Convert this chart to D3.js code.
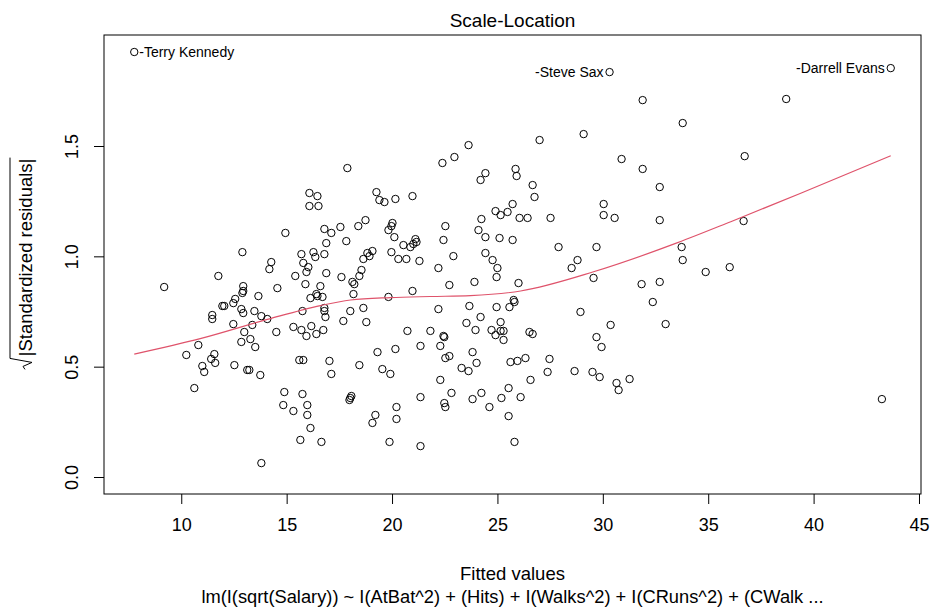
<!DOCTYPE html>
<html>

<head>
  <meta charset="utf8">
  <script src="https://d3js.org/d3.v7.min.js"></script>
  <style>
    body {
      margin: 0;
      background: #fff;
    }

    text {
      font-family: "Liberation Sans", Arial, sans-serif;
      fill: #000;
    }

    .axis text {
      font-size: 18px;
    }

    .axis line {
      stroke: #000;
    }

    .pt {
      fill: none;
      stroke: #000;
      stroke-width: 1;
    }

    .smooth {
      fill: none;
      stroke: #DF536B;
      stroke-width: 1.2;
    }
  </style>
</head>

<body>
  <svg id="chart" width="934" height="607"></svg>

  <script>
    // fitted values (x) and sqrt(|standardized residuals|) (y)
    var fitted = [
      7.77, 30.32, 43.66, 31.89, 38.70, 33.79, 29.09, 27.00, 23.63, 30.89,
      36.73, 22.96, 22.39, 17.88, 31.89, 25.86, 25.91, 24.43, 24.20, 32.70,
      26.67, 26.76, 16.08, 16.46, 16.08, 16.51, 19.26, 19.40, 19.64, 20.16,
      20.97, 24.24, 24.91, 25.15, 25.48, 25.72, 26.05, 26.43, 27.52, 30.04,
      30.04, 30.56, 32.70, 36.68, 22.53, 22.44, 24.10, 24.43, 25.10, 25.72,
      16.79, 17.12, 17.55, 16.88, 17.83, 18.40, 18.74, 20.02, 19.97, 19.83,
      20.11, 20.54, 20.87, 21.11, 21.16, 21.01, 14.94, 12.90, 15.70, 16.27,
      16.36, 16.79, 14.27, 14.18, 15.79, 16.03, 15.94, 18.83, 19.07, 18.93,
      18.64, 19.97, 20.30, 20.68, 21.30, 22.91, 24.43, 24.77, 25.00, 24.96,
      26.00, 22.20, 22.72, 23.91, 16.88, 17.60, 18.55, 18.45, 18.12, 18.21,
      15.89, 16.60, 16.41, 16.46, 16.70, 16.13, 18.17, 20.97, 19.83, 25.77,
      11.76, 15.41, 9.19, 12.94, 12.94, 12.90, 14.56, 13.66, 12.56, 12.47,
      11.95, 12.04, 11.47, 11.47, 12.85, 12.94, 13.47, 13.80, 14.08, 12.47,
      13.37, 12.99, 12.85, 13.28, 13.51, 14.51, 15.75, 15.32, 15.70, 16.17,
      15.94, 16.41, 16.74, 10.81, 10.24, 11.57, 11.42, 11.61, 11.00, 11.09,
      12.52, 13.13, 13.23, 13.75, 15.60, 15.79, 10.62, 14.89, 15.75, 14.84,
      15.32, 15.98, 15.98, 16.13, 15.65, 16.65, 13.80, 16.79, 16.79, 18.02,
      18.64, 16.84, 17.69, 18.78, 20.73, 21.82, 22.20, 23.67, 24.20, 23.53,
      23.96, 24.96, 25.57, 25.81, 25.15, 24.72, 24.91, 25.15, 25.29, 25.29,
      22.44, 22.48, 22.29, 21.35, 19.31, 20.16, 17.03, 18.45, 17.12, 19.54,
      19.92, 22.53, 22.72, 23.82, 24.01, 23.30, 23.63, 25.62, 25.95, 22.29,
      22.82, 21.35, 22.48, 22.53, 23.82, 24.24, 24.62, 25.19, 25.53, 26.10,
      18.07, 17.98, 18.02, 20.21, 20.21, 19.21, 19.07, 19.88, 21.35, 25.53,
      25.81, 27.90, 29.70, 28.80, 28.52, 29.56, 31.84, 32.70, 33.74, 33.79,
      34.88, 36.02, 32.37, 28.94, 30.37, 32.98, 26.52, 26.67, 29.70, 29.94,
      26.33, 27.47, 27.38, 28.66, 29.51, 29.85, 30.65, 30.75, 31.27, 26.57,
      43.24
    ];

    var sqrtStdResid = [
      1.926, 1.835, 1.853, 1.708, 1.713, 1.604, 1.554, 1.527, 1.504, 1.441,
      1.454, 1.450, 1.423, 1.400, 1.396, 1.396, 1.364, 1.377, 1.346, 1.314,
      1.323, 1.269, 1.287, 1.273, 1.228, 1.228, 1.291, 1.255, 1.246, 1.260,
      1.273, 1.169, 1.205, 1.187, 1.201, 1.237, 1.174, 1.174, 1.174, 1.237,
      1.187, 1.174, 1.164, 1.160, 1.137, 1.074, 1.119, 1.087, 1.083, 1.074,
      1.124, 1.106, 1.133, 1.060, 1.069, 1.137, 1.164, 1.151, 1.137, 1.119,
      1.087, 1.051, 1.042, 1.078, 1.065, 1.056, 1.106, 1.019, 1.010, 1.019,
      0.997, 1.010, 0.974, 0.942, 0.970, 0.951, 0.929, 1.015, 1.024, 1.001,
      0.988, 1.019, 0.988, 0.988, 0.979, 1.001, 1.015, 0.983, 0.947, 0.906,
      0.879, 0.947, 0.870, 0.884, 0.924, 0.906, 0.938, 0.911, 0.884, 0.874,
      0.874, 0.865, 0.829, 0.820, 0.816, 0.811, 0.829, 0.843, 0.816, 0.802,
      0.911, 0.911, 0.861, 0.865, 0.843, 0.834, 0.856, 0.820, 0.807, 0.788,
      0.775, 0.775, 0.734, 0.716, 0.761, 0.743, 0.752, 0.729, 0.716, 0.693,
      0.689, 0.657, 0.612, 0.625, 0.589, 0.657, 0.752, 0.680, 0.666, 0.684,
      0.639, 0.648, 0.666, 0.598, 0.553, 0.557, 0.535, 0.517, 0.503, 0.476,
      0.507, 0.485, 0.485, 0.462, 0.530, 0.530, 0.403, 0.385, 0.376, 0.326,
      0.299, 0.326, 0.281, 0.222, 0.168, 0.159, 0.063, 0.766, 0.752, 0.752,
      0.766, 0.725, 0.707, 0.702, 0.662, 0.662, 0.761, 0.775, 0.725, 0.698,
      0.666, 0.770, 0.770, 0.793, 0.702, 0.666, 0.643, 0.662, 0.662, 0.621,
      0.639, 0.634, 0.594, 0.594, 0.566, 0.580, 0.526, 0.507, 0.467, 0.489,
      0.467, 0.539, 0.548, 0.566, 0.517, 0.494, 0.480, 0.521, 0.526, 0.440,
      0.381, 0.362, 0.335, 0.317, 0.353, 0.381, 0.317, 0.358, 0.403, 0.362,
      0.367, 0.349, 0.358, 0.317, 0.263, 0.281, 0.245, 0.159, 0.140, 0.276,
      0.159, 1.042, 1.042, 0.983, 0.947, 0.902, 0.874, 0.884, 1.042, 0.983,
      0.929, 0.951, 0.793, 0.748, 0.689, 0.693, 0.657, 0.648, 0.634, 0.589,
      0.539, 0.535, 0.476, 0.480, 0.476, 0.453, 0.426, 0.394, 0.444, 0.440,
      0.353
    ];

    // the three most extreme points carry their row names
    var idIndex = [0, 1, 2];
    var idLabels = ['-Terry Kennedy', '-Steve Sax', '-Darrell Evans'];

    // red smoother
    var smoothX = [7.77, 10.9, 14.08, 16.6, 18.03, 19.92, 21.82, 23.72, 26.1, 29.56, 33.55, 36.07, 39.39, 43.66];
    var smoothY = [0.557, 0.627, 0.714, 0.777, 0.802, 0.813, 0.818, 0.822, 0.843, 0.930, 1.062, 1.157, 1.286, 1.456];

    var xTicks = [10, 15, 20, 25, 30, 35, 40, 45];
    var yTicks = [0, 0.5, 1, 1.5];

    var title = 'Scale-Location';
    var xTitle = 'Fitted values';
    var subTitle = 'lm(I(sqrt(Salary)) ~ I(AtBat^2) + (Hits) + I(Walks^2) + I(CRuns^2) + (CWalk ...';
    var yTitle = '|Standardized residuals|';

    var chart = d3.select('#chart');
    var box = { left: 104, right: 921, top: 35, bottom: 494 };

    // R-style 4% extension of the data range
    var xr = d3.extent(fitted);
    var xpad = (xr[1] - xr[0]) * 0.04;
    var ymax = d3.max(sqrtStdResid);
    var ypad = ymax * 0.04;

    var x = d3.scaleLinear()
      .domain([xr[0] - xpad, xr[1] + xpad])
      .range([box.left, box.right]);

    var y = d3.scaleLinear()
      .domain([-ypad, ymax + ypad])
      .range([box.bottom, box.top]);

    var points = fitted.map((d, i) => ({ x: d, y: sqrtStdResid[i] }));

    // axes
    chart.append('g')
      .attr('class', 'axis')
      .attr('transform', 'translate(0,' + box.bottom + ')')
      .call(d3.axisBottom(x).tickValues(xTicks).tickSize(10).tickPadding(14).tickFormat(d3.format('d')))
      .call(g => g.select('.domain').remove());

    chart.append('g')
      .attr('class', 'axis')
      .attr('transform', 'translate(' + box.left + ',0)')
      .call(d3.axisLeft(y).tickValues(yTicks).tickSize(10).tickFormat(d3.format('.1f')))
      .call(g => g.select('.domain').remove())
      .selectAll('text')
      .attr('x', 0)
      .attr('dy', 0)
      .attr('text-anchor', 'middle')
      .attr('transform', 'translate(-26,0) rotate(-90)');

    chart.append('rect')
      .attr('x', box.left)
      .attr('y', box.top)
      .attr('width', box.right - box.left)
      .attr('height', box.bottom - box.top)
      .attr('fill', 'none')
      .attr('stroke', '#000');

    // points
    chart.append('g')
      .selectAll('circle')
      .data(points)
      .enter()
      .append('circle')
      .attr('class', 'pt')
      .attr('cx', d => x(d.x))
      .attr('cy', d => y(d.y))
      .attr('r', 3.7);

    // smoother
    chart.append('path')
      .datum(smoothX.map((d, i) => [d, smoothY[i]]))
      .attr('class', 'smooth')
      .attr('d', d3.line()
        .x(d => x(d[0]))
        .y(d => y(d[1]))
        .curve(d3.curveMonotoneX));

    // id labels: right of the point in the left half, left of it otherwise
    var xMid = (xr[0] + xr[1]) / 2;
    chart.append('g')
      .selectAll('text')
      .data(idIndex)
      .enter()
      .append('text')
      .attr('x', i => x(fitted[i]) + (fitted[i] < xMid ? 5 : -6))
      .attr('y', i => y(sqrtStdResid[i]))
      .attr('dy', '0.35em')
      .attr('text-anchor', i => fitted[i] < xMid ? 'start' : 'end')
      .style('font-size', '14px')
      .text((i, k) => idLabels[k]);

    // titles
    var cx = (box.left + box.right) / 2;
    chart.append('text')
      .attr('x', cx)
      .attr('y', 27)
      .attr('text-anchor', 'middle')
      .style('font-size', '19px')
      .text(title);

    chart.append('text')
      .attr('x', cx)
      .attr('y', 580)
      .attr('text-anchor', 'middle')
      .style('font-size', '18.5px')
      .text(xTitle);

    chart.append('text')
      .attr('x', cx)
      .attr('y', 603)
      .attr('text-anchor', 'middle')
      .style('font-size', '18.3px')
      .text(subTitle);

    // y title with a drawn square-root sign
    var yg = chart.append('g')
      .attr('transform', 'translate(32,' + ((box.top + box.bottom) / 2) + ') rotate(-90)');
    var yt = yg.append('text')
      .style('font-size', '18.5px')
      .text(yTitle);
    var w = yt.node().getComputedTextLength();
    var rad = 14;
    var x0 = -(w + rad) / 2;
    yt.attr('x', x0 + rad);
    yg.append('path')
      .attr('d', 'M' + (x0 + 1) + ',-7 L' + (x0 + 4) + ',-9 L' + (x0 + 8) + ',0 L' + (x0 + 12) + ',-22 L' + (x0 + rad + w + 1) + ',-22')
      .attr('fill', 'none')
      .attr('stroke', '#000')
      .attr('stroke-width', 1);
  </script>
</body>

</html>
